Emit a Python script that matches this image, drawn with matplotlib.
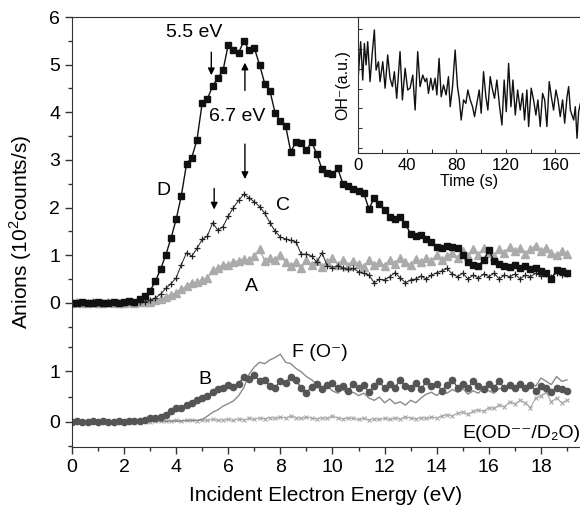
import numpy as np
import matplotlib.pyplot as plt
from matplotlib.ticker import MultipleLocator, FixedLocator

# incident electron energy grid (eV)
energy = np.round(np.arange(0, 19.01, 0.2), 1)

# upper panel (10^2 counts/s)
curve_d = [0.0, 0.0, 0.01, 0.0, 0.0, 0.01, 0.0, 0.0, 0.01, 0.0,
           0.02, 0.03, 0.02, 0.08, 0.14, 0.25, 0.45, 0.7, 1.0, 1.35,
           1.75, 2.25, 2.92, 3.05, 3.42, 4.2, 4.28, 4.55, 4.72, 4.88,
           5.42, 5.3, 5.25, 5.5, 5.3, 5.35, 5.0, 4.6, 4.45, 3.98,
           3.82, 3.72, 3.17, 3.38, 3.35, 3.2, 3.38, 3.12, 2.8, 2.72,
           2.7, 2.82, 2.5, 2.46, 2.38, 2.35, 2.3, 1.97, 2.2, 2.08,
           1.95, 1.8, 1.76, 1.8, 1.65, 1.45, 1.41, 1.42, 1.34, 1.28,
           1.18, 1.16, 1.2, 1.18, 1.16, 1.0, 0.85, 0.8, 0.77, 0.9,
           1.1, 0.88, 0.82, 0.77, 0.75, 0.8, 0.72, 0.77, 0.7, 0.72,
           0.67, 0.62, 0.5, 0.68, 0.66, 0.62]
curve_c = [0.0, 0.0, 0.0, 0.0, 0.01, 0.0, 0.0, 0.01, 0.0, 0.0,
           0.0, 0.01, 0.0, 0.01, 0.02, 0.05, 0.1, 0.18, 0.3, 0.4,
           0.52, 0.8, 1.05, 0.98, 1.14, 1.33, 1.4, 1.68, 1.52, 1.6,
           1.82, 2.0, 2.15, 2.28, 2.2, 2.12, 2.02, 1.88, 1.68, 1.5,
           1.38, 1.34, 1.31, 1.28, 1.02, 1.02, 0.98, 0.85, 1.05, 0.77,
           0.74, 0.78, 0.74, 0.7, 0.72, 0.65, 0.62, 0.58, 0.42, 0.49,
           0.48, 0.55, 0.63, 0.52, 0.42, 0.48, 0.5, 0.56, 0.5, 0.58,
           0.63, 0.67, 0.72, 0.6, 0.55, 0.62, 0.5, 0.58, 0.52, 0.6,
           0.55, 0.62, 0.5, 0.58, 0.55, 0.6, 0.5, 0.58, 0.55, 0.62,
           0.56, 0.6, 0.55, 0.62, 0.58, 0.6]
curve_a = [0.0, 0.01, 0.0, 0.0, 0.01, 0.0, 0.0, 0.01, 0.0, 0.0,
           0.0, 0.01, 0.0, 0.01, 0.01, 0.02, 0.05, 0.08, 0.12, 0.17,
           0.2, 0.28, 0.35, 0.42, 0.43, 0.47, 0.52, 0.68, 0.72, 0.8,
           0.8, 0.86, 0.88, 0.92, 0.9, 0.98, 1.12, 0.88, 0.95, 0.9,
           1.0, 0.85, 0.78, 0.85, 0.72, 0.9, 0.8, 0.88, 0.75, 0.85,
           0.95, 0.8, 0.9, 0.78, 0.88, 0.82, 0.75, 0.9, 0.8, 0.85,
           0.78, 0.9, 0.82, 0.95, 0.85, 0.8, 0.92, 0.85, 0.95, 0.88,
           1.0, 0.9, 0.98, 1.05, 0.95, 1.08, 0.98, 1.12, 1.0, 1.15,
           1.05, 0.98, 1.12, 1.05, 1.18, 1.08, 1.15, 1.02, 1.12, 1.2,
           1.08, 1.15, 1.05, 1.0, 1.08, 1.02]

# lower panel (own zero, shifted down)
curve_b = [0.0, 0.01, 0.0, 0.0, 0.01, 0.0, 0.01, 0.0, 0.0, 0.01,
           0.0, 0.01, 0.02, 0.02, 0.03, 0.07, 0.08, 0.1, 0.15, 0.22,
           0.28, 0.3, 0.36, 0.4, 0.46, 0.5, 0.55, 0.62, 0.68, 0.72,
           0.78, 0.74, 0.8, 0.95, 0.9, 0.98, 0.86, 0.88, 0.75, 0.72,
           0.85, 0.82, 0.95, 0.88, 0.7, 0.6, 0.74, 0.8, 0.68, 0.78,
           0.82, 0.7, 0.76, 0.65, 0.8, 0.72, 0.78, 0.62, 0.75, 0.85,
           0.7, 0.8, 0.72, 0.88, 0.75, 0.7, 0.82, 0.68, 0.85, 0.75,
           0.8, 0.65, 0.78, 0.88, 0.72, 0.8, 0.7, 0.85, 0.75, 0.68,
           0.8, 0.72, 0.85, 0.7, 0.78, 0.72, 0.8, 0.7, 0.78, 0.65,
           0.75, 0.7, 0.62, 0.72, 0.68, 0.65]
curve_f = [0.0, 0.0, 0.01, 0.0, 0.0, 0.01, 0.0, 0.0, 0.01, 0.0,
           0.0, 0.01, 0.0, 0.0, 0.01, 0.01, 0.0, 0.01, 0.01, 0.02,
           0.01, 0.02, 0.02, 0.03, 0.03, 0.05, 0.12, 0.2, 0.25, 0.33,
           0.38, 0.44, 0.55, 0.72, 1.0, 1.15, 1.25, 1.22, 1.3, 1.35,
           1.42, 1.25, 1.22, 1.12, 1.05, 0.95, 0.88, 0.8, 0.7, 0.75,
           0.65, 0.6, 0.68, 0.58, 0.62, 0.55, 0.6, 0.5, 0.45, 0.52,
           0.4, 0.48, 0.38, 0.42, 0.35, 0.45, 0.4, 0.5, 0.58, 0.62,
           0.55, 0.65, 0.6, 0.68, 0.62, 0.7, 0.58, 0.65, 0.6, 0.72,
           0.65, 0.6, 0.7, 0.68, 0.75, 0.7, 0.78, 0.72, 0.8, 0.75,
           0.92, 0.85, 0.78, 0.95, 0.85, 0.88]
curve_e = [0.0, 0.01, 0.0, 0.01, 0.0, 0.0, 0.01, 0.0, 0.01, 0.0,
           0.01, 0.0, 0.01, 0.0, 0.01, 0.0, 0.01, 0.02, 0.01, 0.02,
           0.03, 0.02, 0.04, 0.03, 0.02, 0.04, 0.03, 0.05, 0.03, 0.04,
           0.05, 0.03, 0.06, 0.04, 0.07, 0.05, 0.08, 0.06, 0.09, 0.07,
           0.1, 0.08, 0.12, 0.09, 0.07, 0.1, 0.08, 0.06, 0.09, 0.07,
           0.12, 0.08, 0.06, 0.08, 0.07, 0.05, 0.07, 0.04, 0.06, 0.05,
           0.07, 0.05, 0.08, 0.06, 0.1, 0.08, 0.06, 0.09, 0.07, 0.1,
           0.08, 0.12, 0.15, 0.12, 0.18, 0.2, 0.16, 0.22, 0.25, 0.22,
           0.3, 0.28, 0.35, 0.32, 0.42, 0.38, 0.45, 0.4, 0.3, 0.5,
           0.55, 0.62, 0.42, 0.5, 0.4, 0.45]
lower_shift = -2.5

# inset: OH- signal vs time
time_s = [0, 2.4, 4.1, 5.4, 6.8, 8.1, 10, 11.9, 13.5, 14.9, 16.8, 18.1, 20.3,
          22.2, 24.3, 26.2, 28.1, 29.7, 31.6, 34.3, 36.2, 38.4, 40.5, 42.4,
          44.6, 46.5, 48.6, 50.5, 52.7, 54.6, 55.9, 57.3, 59.2, 60.8, 62.7,
          64.1, 65.9, 67.6, 69.5, 71.6, 73.5, 74.9, 76.8, 78.9, 80.8, 82.2,
          83.8, 85.7, 87.6, 89.2, 91.1, 93, 94.6, 96.5, 98.4, 100, 101.9,
          103.8, 105.4, 107.3, 109.2, 110.8, 112.7, 114.9, 116.8, 118.6,
          120.3, 122.2, 124.1, 125.7, 127.6, 129.5, 131.6, 133.5, 135.1, 137,
          138.4, 140.5, 142.4, 144.3, 145.9, 147.8, 149.7, 151.4, 153.2,
          155.1, 156.8, 158.6, 160.5, 162.2, 164, 165.9, 167.6, 169.5, 170.8,
          172.2, 173.5, 174.9, 176.2, 177.6, 178.9, 180.3]
oh_signal = [3.18, 5.36, 3.43, 5.27, 4.19, 5.36, 3.35, 4.86, 5.95, 3.93, 4.35,
             3.35, 4.35, 3.02, 4.69, 3.52, 3.1, 3.85, 2.51, 4.86, 2.43, 4.02,
             2.93, 3.02, 3.68, 1.92, 4.86, 3.1, 3.68, 3.35, 3.52, 2.76, 3.52,
             2.93, 3.52, 2.68, 4.52, 2.59, 3.18, 2.68, 3.6, 2.09, 3.1, 4.94,
             3.1, 2.51, 1.42, 2.43, 2.26, 2.93, 2.43, 2.09, 1.59, 2.26, 2.93,
             1.76, 3.85, 2.59, 1.92, 3.6, 2.93, 2.51, 3.43, 2.09, 1.17, 3.43,
             1.84, 4.27, 2.09, 3.43, 1.67, 2.93, 1.92, 2.76, 1.42, 2.93, 1.09,
             3.02, 2.43, 1.67, 2.43, 1.09, 2.76, 2.43, 1.09, 3.35, 2.59, 1.92,
             2.93, 2.43, 1.59, 2.43, 1.26, 2.59, 3.1, 1.92, 1.67, 1.42, 2.09,
             0.5, 1.84, 2.26]

plt.rcParams['font.family'] = ['Liberation Sans', 'DejaVu Sans']
plt.rcParams['mathtext.fontset'] = 'custom'
plt.rcParams['mathtext.rm'] = 'Liberation Sans'

fig = plt.figure(figsize=(5.8, 5.08), dpi=100)
ax = fig.add_axes([0.124, 0.12, 0.876, 0.8465])

ax.plot(energy, curve_a, '-^', color='#ababab', ms=6, lw=1)
ax.plot(energy, curve_c, '-+', color='#222222', ms=5, mew=0.9, lw=0.7)
ax.plot(energy, curve_d, '-s', color='#111111', ms=4.5, lw=1)

ax.plot(energy, np.array(curve_e) + lower_shift, '-x', color='#a8a8a8',
        ms=3, mew=0.8, lw=0.8)
ax.plot(energy, np.array(curve_f) + lower_shift, '-', color='#8a8a8a', lw=1)
ax.plot(energy, np.array(curve_b) + lower_shift, '-o', color='#555555',
        ms=4.5, lw=1)

ax.set_xlim(0, 19.5)
ax.set_ylim(-3.03, 6.0)
ax.xaxis.set_major_locator(MultipleLocator(2))
ax.xaxis.set_minor_locator(MultipleLocator(1))
ax.yaxis.set_major_locator(FixedLocator([-2.5, -1.44, 0, 1, 2, 3, 4, 5, 6]))
ax.set_yticklabels(['0', '1', '0', '1', '2', '3', '4', '5', '6'])
ax.yaxis.set_minor_locator(FixedLocator([-3.0, -1.97, -0.92, -0.5, 0.5, 1.5,
                                         2.5, 3.5, 4.5, 5.5]))
ax.tick_params(labelsize=14, length=5, width=1, color='#333333')
ax.tick_params(which='minor', length=3, width=1, color='#333333')
ax.spines['right'].set_visible(False)
for s in ['left', 'bottom', 'top']:
    ax.spines[s].set_color('#333333')
ax.set_xlabel('Incident Electron Energy (eV)', fontsize=15, labelpad=7)
ax.set_ylabel(r'Anions (10$^{\rm 2}$counts/s)', fontsize=15, labelpad=11)

# labels and arrows
ax.text(4.68, 5.67, '5.5 eV', fontsize=14, ha='center', va='center')
ax.text(6.33, 3.91, '6.7 eV', fontsize=14, ha='center', va='center')
arrow = dict(arrowstyle='-|>', color='black', lw=1, mutation_scale=10)
ax.annotate('', xy=(5.35, 4.72), xytext=(5.35, 5.32), arrowprops=arrow)
ax.annotate('', xy=(6.64, 5.1), xytext=(6.64, 4.4), arrowprops=arrow)
ax.annotate('', xy=(6.64, 2.54), xytext=(6.64, 3.39), arrowprops=arrow)
ax.annotate('', xy=(5.46, 1.9), xytext=(5.46, 2.46), arrowprops=arrow)
ax.text(3.5, 2.36, 'D', fontsize=14, ha='center', va='center')
ax.text(8.1, 2.04, 'C', fontsize=14, ha='center', va='center')
ax.text(6.9, 0.35, 'A', fontsize=14, ha='center', va='center')
ax.text(5.1, -1.62, 'B', fontsize=14, ha='center', va='center')
ax.text(8.45, -1.05, 'F (O⁻)', fontsize=14, ha='left', va='center')
ax.text(19.5, -2.75, 'E(OD⁻⁻/D₂O)', fontsize=14, ha='right', va='center')

# inset
ins = fig.add_axes([0.6167, 0.6988, 0.3833, 0.2677])
ins.plot(time_s, oh_signal, color='#111111', lw=1)
ins.set_xlim(0, 180)
ins.set_ylim(-0.24, 6.6)
ins.xaxis.set_major_locator(MultipleLocator(40))
ins.xaxis.set_minor_locator(MultipleLocator(20))
ins.yaxis.set_major_locator(MultipleLocator(1))
ins.set_yticklabels([])
ins.tick_params(direction='in', labelsize=12, length=3, color='#333333')
ins.tick_params(which='minor', direction='in', length=3)
ins.spines['right'].set_visible(False)
for s in ['left', 'bottom', 'top']:
    ins.spines[s].set_color('#333333')
ins.set_xlabel('Time (s)', fontsize=11.5, labelpad=1)
ins.set_ylabel('OH⁻(a.u.)', fontsize=11.5, labelpad=2)

fig.savefig('out.png', dpi=100)
